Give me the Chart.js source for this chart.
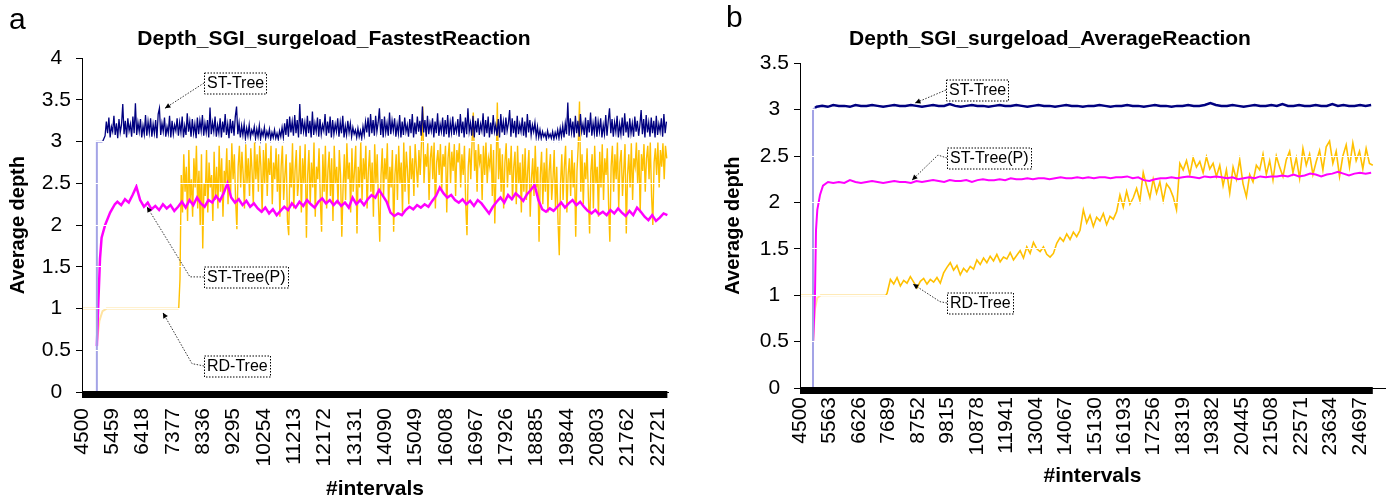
<!DOCTYPE html>
<html lang="en">
<head>
<meta charset="UTF-8">
<title>Depth_SGI_surgeload</title>
<script src="https://cdn.jsdelivr.net/npm/chart.js"></script>
<style>
  body { margin: 0; background: #fff; font-family: "Liberation Sans", Arial, sans-serif; }
  #wrap { position: relative; width: 1390px; height: 500px; overflow: hidden; }
  canvas { position: absolute; top: 0; }
  #chartA { left: 0; }
  #chartB { left: 715px; }
  .panel { position: absolute; font-size: 30px; line-height: 30px; color: #000; }
</style>
</head>
<body>
<div id="wrap">
  <canvas id="chartA" width="672" height="500"></canvas>
  <canvas id="chartB" width="675" height="500"></canvas>
  <div class="panel" style="left:9px;top:4px">a</div>
  <div class="panel" style="left:726px;top:2px">b</div>
</div>

<script>
// x tick labels (#intervals)
const ticksA = [4500,5459,6418,7377,8336,9295,10254,11213,12172,13131,14090,15049,16008,16967,17926,18885,19844,20803,21762,22721];
const ticksB = [4500,5563,6626,7689,8752,9815,10878,11941,13004,14067,15130,16193,17256,18319,19382,20445,21508,22571,23634,24697];

// ---- panel a: FastestReaction ----
const stTreeA_headX = [4970, 4970, 5150];
const stTreeA_headY = [0, 3.0, 3.0];
const stTreeA_start = 5230, stTreeA_step = 40;
const stTreeA = [
  3.07,3.24,3.10,3.29,3.05,3.18,3.12,3.31,3.08,3.22,3.04,3.27,3.11,3.20,3.45,3.09,3.25,3.05,3.28,3.13,
  3.21,3.06,3.30,3.10,3.46,3.08,3.23,3.12,3.27,3.05,3.19,3.09,3.32,3.07,3.24,3.11,3.28,3.06,3.21,3.10,
  3.26,3.04,3.33,3.40,3.08,3.22,3.12,3.29,3.06,3.18,3.10,3.31,3.05,3.25,3.09,3.20,3.13,3.28,3.07,3.23,
  3.11,3.30,3.05,3.19,3.08,3.34,3.12,3.24,3.06,3.27,3.10,3.21,3.04,3.29,3.09,3.25,3.13,3.32,3.07,3.22,
  3.11,3.26,3.05,3.41,3.09,3.23,3.12,3.30,3.06,3.20,3.10,3.28,3.05,3.24,3.11,3.33,3.08,3.21,3.04,3.27,
  3.10,3.25,3.07,3.30,3.42,3.09,3.22,3.05,3.19,3.08,3.21,3.04,3.16,3.07,3.20,3.05,3.14,3.09,3.18,3.04,
  3.15,3.06,3.19,3.03,3.13,3.07,3.17,3.04,3.12,3.06,3.15,3.03,3.11,3.05,3.14,3.04,3.10,3.03,3.13,3.06,
  3.17,3.05,3.22,3.08,3.27,3.06,3.30,3.11,3.24,3.07,3.32,3.10,3.26,3.05,3.45,3.09,3.28,3.12,3.23,3.06,
  3.31,3.10,3.25,3.05,3.36,3.08,3.22,3.12,3.29,3.06,3.27,3.09,3.20,3.13,3.33,3.07,3.24,3.10,3.30,3.05,
  3.26,3.09,3.21,3.12,3.28,3.06,3.23,3.10,3.31,3.05,3.19,3.08,3.25,3.11,3.22,3.06,3.17,3.09,3.14,3.05,
  3.16,3.06,3.13,3.04,3.18,3.08,3.24,3.11,3.29,3.06,3.33,3.10,3.26,3.07,3.31,3.12,3.23,3.40,3.08,3.27,
  3.05,3.30,3.11,3.22,3.07,3.35,3.09,3.25,3.13,3.28,3.06,3.21,3.10,3.32,3.05,3.24,3.08,3.29,3.12,3.20,
  3.06,3.27,3.10,3.33,3.05,3.23,3.09,3.30,3.12,3.25,3.07,3.42,3.11,3.26,3.06,3.31,3.09,3.22,3.13,3.28,
  3.05,3.24,3.10,3.34,3.07,3.21,3.12,3.29,3.06,3.26,3.09,3.32,3.05,3.23,3.11,3.30,3.08,3.20,3.12,3.27,
  3.06,3.33,3.10,3.24,3.05,3.29,3.09,3.40,3.12,3.22,3.07,3.31,3.05,3.25,3.11,3.28,3.08,3.21,3.13,3.34,
  3.06,3.26,3.10,3.30,3.05,3.23,3.09,3.32,3.12,3.20,3.07,3.27,3.05,3.33,3.11,3.24,3.08,3.29,3.13,3.22,
  3.38,3.06,3.28,3.10,3.25,3.05,3.31,3.09,3.21,3.12,3.29,3.07,3.24,3.05,3.33,3.11,3.26,3.08,3.20,3.12,
  3.23,3.06,3.18,3.05,3.14,3.04,3.12,3.06,3.10,3.03,3.13,3.05,3.09,3.04,3.12,3.03,3.11,3.05,3.14,3.04,
  3.16,3.06,3.19,3.05,3.22,3.09,3.47,3.07,3.28,3.11,3.24,3.05,3.31,3.10,3.25,3.06,3.33,3.12,3.21,3.08,
  3.29,3.05,3.26,3.11,3.35,3.07,3.22,3.10,3.30,3.06,3.24,3.12,3.28,3.05,3.20,3.09,3.32,3.07,3.25,3.40,
  3.10,3.27,3.06,3.23,3.12,3.31,3.05,3.21,3.09,3.29,3.07,3.34,3.11,3.24,3.05,3.28,3.10,3.22,3.06,3.30,
  3.12,3.25,3.07,3.20,3.38,3.09,3.27,3.05,3.32,3.11,3.23,3.06,3.29,3.10,3.25,3.05,3.31,3.08,3.21,3.12,
  3.28,3.06,3.33,3.10,3.24
];

const stTreePA_headX = [4970, 5010, 5070, 5120, 5230, 5390, 5540];
const stTreePA_headY = [0.55, 1.0, 1.6, 1.85, 2.0, 2.15, 2.25];
const stTreePA_start = 5620, stTreePA_step = 120;
const stTreePA = [
  2.28,2.24,2.31,2.27,2.36,2.46,2.30,2.22,2.27,2.19,
  2.23,2.18,2.25,2.20,2.24,2.17,2.22,2.28,2.21,2.30,
  2.24,2.33,2.26,2.22,2.30,2.27,2.35,2.29,2.38,2.50,
  2.33,2.27,2.31,2.24,2.29,2.22,2.26,2.20,2.16,2.21,
  2.14,2.19,2.12,2.17,2.22,2.18,2.26,2.21,2.28,2.23,
  2.30,2.25,2.21,2.28,2.32,2.26,2.30,2.24,2.29,2.23,
  2.27,2.21,2.33,2.25,2.30,2.24,2.31,2.36,2.33,2.42,
  2.35,2.28,2.15,2.11,2.14,2.12,2.18,2.22,2.19,2.24,
  2.21,2.25,2.22,2.29,2.35,2.45,2.38,2.33,2.36,2.30,
  2.27,2.31,2.25,2.29,2.23,2.30,2.26,2.20,2.14,2.22,
  2.28,2.33,2.27,2.36,2.31,2.38,2.34,2.29,2.37,2.42,
  2.48,2.30,2.19,2.16,2.20,2.17,2.22,2.27,2.21,2.26,
  2.30,2.24,2.28,2.22,2.17,2.14,2.18,2.13,2.16,2.12,
  2.18,2.14,2.20,2.15,2.11,2.17,2.12,2.21,2.16,2.10,
  2.06,2.12,2.05,2.09,2.14,2.12
];

const rdTreeA_headX = [4500, 4970, 4975, 5050, 5150, 5280, 7560];
const rdTreeA_headY = [1.0, 1.0, 0.6, 0.85, 0.97, 1.0, 1.0];
const rdTreeA_start = 7600, rdTreeA_step = 40;
const rdTreeA = [
  1.35,2.60,2.15,2.85,2.40,2.70,2.05,2.90,2.30,2.55,2.10,2.80,2.45,2.95,2.20,2.65,2.00,2.85,1.72,2.50,
  2.35,2.90,2.15,2.75,2.45,2.60,2.05,2.88,2.30,2.70,2.20,2.95,2.40,2.80,2.10,2.65,2.50,2.92,2.25,2.78,
  2.35,2.98,2.55,2.85,2.30,1.95,2.70,2.95,2.45,2.88,2.60,2.20,2.97,2.50,2.80,2.35,2.92,2.65,2.25,2.99,
  2.55,2.85,2.40,2.95,2.70,2.15,2.90,2.50,2.98,2.35,2.80,2.60,2.95,2.25,2.75,2.55,2.92,2.40,2.85,2.10,
  2.70,2.95,2.30,2.60,2.85,2.05,1.88,2.75,2.45,2.98,2.20,2.65,2.90,2.35,2.55,2.95,2.15,2.80,2.50,2.97,
  1.85,2.60,2.90,2.25,2.75,2.45,2.99,2.10,2.70,2.55,2.92,2.30,1.92,2.85,2.40,2.95,2.20,2.65,2.88,2.35,
  2.80,2.05,2.95,2.50,2.70,2.25,2.90,2.60,1.86,2.45,2.85,2.30,2.98,2.55,2.75,2.15,2.92,2.40,2.65,2.95,
  1.90,2.70,2.45,2.99,2.30,2.80,2.55,2.95,2.20,2.65,2.90,2.40,2.75,2.10,2.97,2.50,2.85,2.25,1.80,2.60,
  2.92,2.35,2.80,2.55,2.98,2.20,2.70,2.45,2.90,1.92,2.60,2.85,2.30,2.95,2.50,2.75,2.15,2.99,2.40,2.88,
  2.65,2.25,2.95,2.55,2.80,2.35,2.97,2.70,2.45,2.90,2.60,2.99,3.42,2.50,2.85,2.70,2.98,2.30,2.80,2.95,
  2.55,2.99,2.20,2.75,2.90,2.60,2.97,2.40,2.85,2.70,2.95,2.15,2.80,2.99,2.50,2.88,2.65,2.97,2.35,2.90,
  2.75,2.98,2.45,2.85,2.60,2.95,2.25,1.88,2.70,2.92,2.55,2.99,3.35,2.65,2.90,2.40,2.97,2.75,2.85,2.30,
  2.95,2.60,2.99,2.50,2.80,2.70,2.97,2.35,2.90,2.02,2.65,3.47,2.55,2.92,2.40,2.85,2.20,2.75,2.98,2.45,
  2.80,2.60,2.95,2.30,2.70,2.88,2.25,2.95,2.50,2.75,2.15,2.85,2.40,2.92,2.30,2.65,2.90,2.10,2.55,2.80,
  2.35,2.95,2.45,2.70,1.80,2.60,2.88,2.25,2.75,2.40,2.92,2.15,2.65,2.85,2.30,2.55,2.90,2.20,2.70,2.05,
  1.64,2.50,2.85,2.30,2.70,2.95,2.15,2.60,2.80,2.35,2.90,2.45,2.75,1.86,2.65,2.95,3.48,2.40,2.85,2.25,
  2.75,2.55,2.92,2.35,1.90,2.65,2.85,2.20,2.95,2.50,2.70,2.10,2.88,2.45,2.97,2.30,2.80,2.60,2.92,2.25,
  1.80,2.70,2.95,2.40,2.85,2.55,2.99,2.20,2.75,2.90,2.35,2.65,2.97,1.90,2.60,2.85,2.45,2.98,2.30,2.80,
  2.70,2.99,2.50,2.90,2.15,2.85,2.65,2.97,2.40,2.80,2.95,2.55,2.99,2.35,2.00,2.75,2.92,2.60,2.99,2.45,
  2.90,2.70,2.98,2.55,2.95,2.80
];

// ---- panel b: AverageReaction ----
const stTreeB_headX = [4970, 4970, 5040];
const stTreeB_headY = [0, 3.0, 3.02];
const stTreeB_start = 5100, stTreeB_step = 200;
const stTreeB = [
  3.03,3.04,3.03,3.05,3.04,3.04,3.03,3.05,3.04,3.04,
  3.05,3.04,3.03,3.04,3.05,3.04,3.04,3.05,3.04,3.03,
  3.04,3.05,3.04,3.04,3.06,3.04,3.03,3.04,3.05,3.04,
  3.04,3.03,3.04,3.05,3.04,3.04,3.05,3.04,3.03,3.04,
  3.05,3.04,3.04,3.03,3.04,3.05,3.04,3.04,3.03,3.04,
  3.04,3.05,3.04,3.03,3.04,3.04,3.05,3.04,3.04,3.03,
  3.04,3.05,3.04,3.04,3.03,3.04,3.04,3.05,3.04,3.04,
  3.05,3.07,3.05,3.04,3.04,3.05,3.04,3.03,3.04,3.05,
  3.04,3.04,3.05,3.04,3.06,3.04,3.04,3.05,3.04,3.04,
  3.05,3.04,3.04,3.06,3.04,3.05,3.04,3.04,3.05,3.04,
  3.05
];

const stTreePB_headX = [4975, 5040, 5077, 5124, 5221, 5329, 5510];
const stTreePB_headY = [0.5, 1.0, 1.7, 1.92, 2.08, 2.18, 2.22];
const stTreePB_start = 5700, stTreePB_step = 200;
const stTreePB = [
  2.21,2.22,2.21,2.24,2.22,2.21,2.22,2.23,2.22,2.21,
  2.22,2.23,2.22,2.22,2.21,2.23,2.22,2.23,2.24,2.23,
  2.22,2.24,2.23,2.23,2.24,2.22,2.24,2.25,2.24,2.24,
  2.25,2.24,2.26,2.25,2.25,2.26,2.25,2.26,2.26,2.25,
  2.26,2.27,2.26,2.26,2.27,2.26,2.27,2.26,2.27,2.27,
  2.26,2.27,2.27,2.28,2.26,2.27,2.24,2.23,2.25,2.26,
  2.26,2.27,2.26,2.27,2.28,2.27,2.26,2.28,2.27,2.28,
  2.27,2.26,2.27,2.25,2.26,2.27,2.26,2.28,2.27,2.28,
  2.28,2.29,2.28,2.30,2.28,2.29,2.31,2.30,2.28,2.30,
  2.31,2.33,2.31,2.29,2.31,2.32,2.31,2.32
];

const rdTreeB_headX = [4500, 4970, 4975, 5040, 5120, 5250, 7600];
const rdTreeB_headY = [1.0, 1.0, 0.5, 0.85, 0.97, 1.0, 1.0];
const rdTreeB_start = 7640, rdTreeB_step = 120;
const rdTreeB = [
  1.02,1.17,1.12,1.19,1.10,1.16,1.13,1.20,1.14,1.08,
  1.15,1.18,1.12,1.17,1.14,1.19,1.13,1.24,1.30,1.35,
  1.27,1.32,1.22,1.29,1.25,1.31,1.28,1.38,1.33,1.40,
  1.35,1.42,1.37,1.44,1.36,1.41,1.39,1.46,1.38,1.43,
  1.48,1.40,1.52,1.45,1.57,1.50,1.47,1.52,1.44,1.41,
  1.45,1.56,1.62,1.58,1.66,1.60,1.68,1.63,1.70,1.92,
  1.78,1.86,1.74,1.84,1.80,1.88,1.76,1.85,1.82,1.90,
  2.08,1.95,2.12,1.98,2.05,2.15,2.02,2.32,2.18,2.05,
  2.25,2.10,2.22,2.02,2.20,2.15,2.06,1.92,2.42,2.35,
  2.45,2.30,2.48,2.38,2.44,2.32,2.49,2.36,2.42,2.28,
  2.40,2.18,2.35,2.10,2.38,2.25,2.46,2.20,2.06,2.30,
  2.22,2.40,2.35,2.52,2.30,2.45,2.24,2.50,2.38,2.28,
  2.46,2.55,2.32,2.48,2.26,2.58,2.40,2.52,2.30,2.44,
  2.56,2.35,2.60,2.66,2.42,2.55,2.28,2.50,2.62,2.38,
  2.64,2.45,2.55,2.36,2.58,2.42,2.40
];

// callout labels, in data coordinates
const notesA = [
  { text: 'ST-Tree',    box: [8360, 3.70], tip: [7125, 3.40] },
  { text: 'ST-Tree(P)', box: [8360, 1.38], elbow: [7915, 1.38], tip: [6555, 2.22] },
  { text: 'RD-Tree',    box: [8360, 0.31], elbow: [7980, 0.34], tip: [7060, 0.95] }
];
const notesB = [
  { text: 'ST-Tree',    box: [9765, 3.21], tip: [8650, 3.07] },
  { text: 'ST-Tree(P)', box: [9800, 2.48], elbow: [9475, 2.51], tip: [8540, 2.24] },
  { text: 'RD-Tree',    box: [9800, 0.92], elbow: [9550, 0.93], tip: [8575, 1.12] }
];

const FONT = '"Liberation Sans", Arial, sans-serif';
const NAVY = '#000080', PINK = '#ff00ff', GOLD = '#ffc000';

function pts(headX, headY, start, step, vals) {
  const out = headX.map((x, i) => ({ x, y: headY[i] }));
  vals.forEach((v, i) => out.push({ x: start + i * step, y: v }));
  return out;
}

// the first headLen points (start-up part) are drawn pale
function series(label, data, color, width, order, headLen, headColor) {
  const inHead = c => headColor && c.p1DataIndex < headLen;
  return {
    label, data, order,
    borderColor: color, borderWidth: width,
    pointRadius: 0, tension: 0, fill: false,
    segment: {
      borderColor: c => inHead(c) ? headColor : undefined,
      borderWidth: c => inHead(c) ? 2 : undefined
    }
  };
}

// black tick band under the x axis + dotted callouts
const decor = {
  id: 'decor',
  afterDraw(chart, args, opts) {
    const { ctx, chartArea: a, scales: { x, y } } = chart;
    const xEnd = Math.max(...chart.data.datasets.map(d => d.data[d.data.length - 1].x));
    ctx.save();
    ctx.fillStyle = '#000';
    ctx.fillRect(a.left, a.bottom - 1, x.getPixelForValue(xEnd) - a.left, 7);

    ctx.font = '16px ' + FONT;
    ctx.textBaseline = 'middle';
    ctx.textAlign = 'left';
    opts.notes.forEach(n => {
      const bx = Math.round(x.getPixelForValue(n.box[0])), by = Math.round(y.getPixelForValue(n.box[1]));
      const tx = x.getPixelForValue(n.tip[0]), ty = y.getPixelForValue(n.tip[1]);
      const ex = n.elbow ? x.getPixelForValue(n.elbow[0]) : bx;
      const ey = n.elbow ? y.getPixelForValue(n.elbow[1]) : by;
      const w = Math.round(ctx.measureText(n.text).width) + 5, h = 21;

      ctx.strokeStyle = '#333'; ctx.lineWidth = 1; ctx.setLineDash([1.5, 1.5]);
      ctx.beginPath(); ctx.moveTo(bx, by);
      if (n.elbow) ctx.lineTo(ex, ey);
      ctx.lineTo(tx, ty); ctx.stroke();

      const ang = Math.atan2(ty - ey, tx - ex);
      ctx.setLineDash([]); ctx.fillStyle = '#000';
      ctx.beginPath(); ctx.moveTo(tx, ty);
      ctx.lineTo(tx - 6 * Math.cos(ang - 0.45), ty - 6 * Math.sin(ang - 0.45));
      ctx.lineTo(tx - 6 * Math.cos(ang + 0.45), ty - 6 * Math.sin(ang + 0.45));
      ctx.closePath(); ctx.fill();

      ctx.fillStyle = '#fff'; ctx.fillRect(bx, by - h / 2, w, h);
      ctx.setLineDash([1.5, 1.5]); ctx.strokeStyle = '#000';
      ctx.strokeRect(bx + 0.5, by - h / 2 + 0.5, w, h);
      ctx.setLineDash([]);
      ctx.fillStyle = '#000';
      ctx.fillText(n.text, bx + 3, by + 1);
    });
    ctx.restore();
  }
};

function makeChart(id, cfg) {
  return new Chart(document.getElementById(id), {
    type: 'line',
    data: { datasets: cfg.datasets },
    options: {
      responsive: false, animation: false, devicePixelRatio: 1,
      layout: { padding: { left: 0, right: cfg.padRight, top: 0, bottom: 0 } },
      plugins: {
        legend: { display: false },
        tooltip: { enabled: false },
        title: {
          display: true, text: cfg.title, color: '#000',
          font: { family: FONT, size: 21, weight: 'bold' },
          padding: { top: 27, bottom: cfg.titleGap }
        },
        decor: { notes: cfg.notes }
      },
      scales: {
        x: {
          type: 'linear', min: 4500, max: cfg.xMax,
          grid: { display: false, drawTicks: false },
          border: { display: true, color: '#000', width: 1 },
          afterBuildTicks: s => { s.ticks = cfg.xTicks.map(v => ({ value: v })); },
          afterFit: s => { s.height = cfg.xHeight; s.paddingLeft = 0; s.paddingRight = 0; },
          ticks: {
            autoSkip: false, minRotation: 90, maxRotation: 90, padding: cfg.xPad,
            color: '#000', font: { family: FONT, size: 21 }, callback: v => String(v)
          },
          title: {
            display: true, text: '#intervals', color: '#000',
            font: { family: FONT, size: 21, weight: 'bold', lineHeight: 1 },
            padding: { top: 0, bottom: cfg.xTitleGap }
          }
        },
        y: {
          min: 0, max: cfg.yMax,
          afterFit: s => { s.width = cfg.yWidth; },
          // white gridlines are painted over the lines, as in the original figure
          grid: {
            z: 1, lineWidth: 1, tickLength: 6, tickColor: '#000', tickWidth: 1,
            color: c => (c.tick && c.tick.value === 0) ? 'rgba(0,0,0,0)' : '#fff'
          },
          border: { color: '#000', width: 1, z: 2 },
          ticks: {
            stepSize: 0.5, padding: 5, crossAlign: 'center',
            color: '#000', font: { family: FONT, size: 21 }, callback: v => String(v)
          },
          title: {
            display: true, text: 'Average depth', color: '#000',
            font: { family: FONT, size: 20, weight: 'bold', lineHeight: 1 },
            padding: { top: 8, bottom: 0 }
          }
        }
      }
    },
    plugins: [decor]
  });
}

makeChart('chartA', {
  title: 'Depth_SGI_surgeload_FastestReaction',
  datasets: [
    series('ST-Tree', pts(stTreeA_headX, stTreeA_headY, stTreeA_start, stTreeA_step, stTreeA), NAVY, 1.3, 0, stTreeA_headX.length, '#a3a3e6'),
    series('ST-Tree(P)', pts(stTreePA_headX, stTreePA_headY, stTreePA_start, stTreePA_step, stTreePA), PINK, 2.5, 1),
    series('RD-Tree', pts(rdTreeA_headX, rdTreeA_headY, rdTreeA_start, rdTreeA_step, rdTreeA), GOLD, 1.4, 2, rdTreeA_headX.length, '#ffe3a0')
  ],
  notes: notesA,
  xTicks: ticksA, xMax: 23040, yMax: 4,
  padRight: 4, titleGap: 6, xHeight: 108, xPad: 16, xTitleGap: 0, yWidth: 82
});

makeChart('chartB', {
  title: 'Depth_SGI_surgeload_AverageReaction',
  datasets: [
    series('ST-Tree', pts(stTreeB_headX, stTreeB_headY, stTreeB_start, stTreeB_step, stTreeB), NAVY, 2.5, 0, stTreeB_headX.length, '#a3a3e6'),
    series('ST-Tree(P)', pts(stTreePB_headX, stTreePB_headY, stTreePB_start, stTreePB_step, stTreePB), PINK, 2, 1),
    series('RD-Tree', pts(rdTreeB_headX, rdTreeB_headY, rdTreeB_start, rdTreeB_step, rdTreeB), GOLD, 1.6, 2, rdTreeB_headX.length, '#ffe3a0')
  ],
  notes: notesB,
  xTicks: ticksB, xMax: 25600, yMax: 3.5,
  padRight: 5, titleGap: 11, xHeight: 112, xPad: 9, xTitleGap: 13, yWidth: 85
});
</script>
</body>
</html>
